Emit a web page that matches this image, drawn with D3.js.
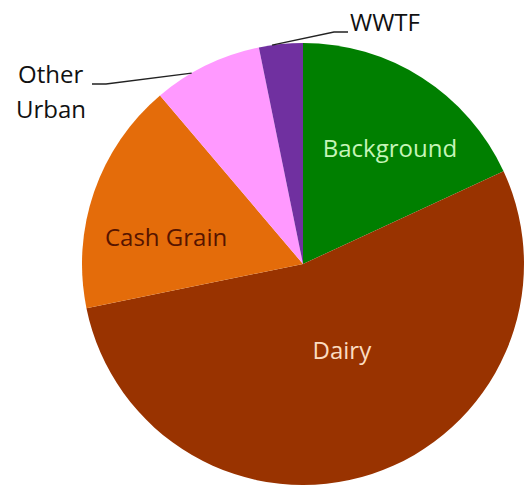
<!DOCTYPE html>
<html><head><meta charset="utf-8">
<script src="https://cdn.jsdelivr.net/npm/d3@7"></script>
<style>body{margin:0;background:#fff}svg{display:block}</style>
</head><body><svg id="c" width="530" height="487"></svg>
<script>
const categories = ["Background", "Dairy", "Cash Grain", "Other Urban", "WWTF"];
const values = [18.1, 53.7, 17.0, 8.0, 3.2];
const colors = ["#007f00", "#993300", "#e46c0a", "#ff99ff", "#7030a0"];

const svg = d3.select("#c");
const cx = 303, cy = 264, r = 221;
const g = svg.append("g").attr("transform", `translate(${cx},${cy})`);
const data = categories.map((c, i) => ({name: c, value: values[i], color: colors[i]}));
const pie = d3.pie().value(d => d.value).sort(null);
const arc = d3.arc().innerRadius(0).outerRadius(r);
const arcs = pie(data);
g.selectAll("path").data(arcs).enter().append("path")
  .attr("d", arc).attr("fill", d => d.data.color)
  .attr("stroke", "none");

const font = "'Open Sans', sans-serif";
const fs = 24;
// label layout (angle fraction within slice, radius fraction) for text baseline centre
const inside = {
  "Background": {t: 0.60, rf: 0.624, color: "#c6f5b8"},
  "Dairy": {t: 0.479, rf: 0.465, color: "#fbdcc0"},
  "Cash Grain": {t: 0.31, rf: 0.625, color: "#561400"}
};
arcs.forEach(a => {
  const s = inside[a.data.name];
  if (!s) return;
  const m = a.startAngle + (a.endAngle - a.startAngle) * s.t;
  const x = Math.sin(m) * r * s.rf, y = -Math.cos(m) * r * s.rf;
  g.append("text").attr("x", x).attr("y", y)
    .attr("text-anchor", "middle").attr("font-family", font).attr("font-size", fs)
    .attr("fill", s.color).text(a.data.name);
});

// outside labels with leader lines
function pt(a, rr) { return [Math.sin(a) * rr, -Math.cos(a) * rr]; }
const ou = arcs[3], ww = arcs[4];
const ouP = pt(ou.startAngle + (ou.endAngle - ou.startAngle) * 0.35, r * 1.0);
g.append("polyline").attr("points", [[92 - cx, 84 - cy], [106 - cx, 84 - cy], ouP].map(p => p.join(",")).join(" "))
  .attr("fill", "none").attr("stroke", "#222").attr("stroke-width", 1.3);
const wwP = pt(ww.startAngle + (ww.endAngle - ww.startAngle) * 0.3, r);
g.append("polyline").attr("points", [wwP, [334 - cx, 32 - cy], [348 - cx, 32 - cy]].map(p => p.join(",")).join(" "))
  .attr("fill", "none").attr("stroke", "#222").attr("stroke-width", 1.3);

svg.append("text").attr("x", 350).attr("y", 31).attr("font-family", font).attr("font-size", fs)
  .attr("fill", "#111").text("WWTF");
const t = svg.append("text").attr("font-family", font).attr("font-size", fs).attr("fill", "#111");
t.append("tspan").attr("x", 18).attr("y", 83).text("Other");
t.append("tspan").attr("x", 16).attr("y", 118).text("Urban");
</script></body></html>
